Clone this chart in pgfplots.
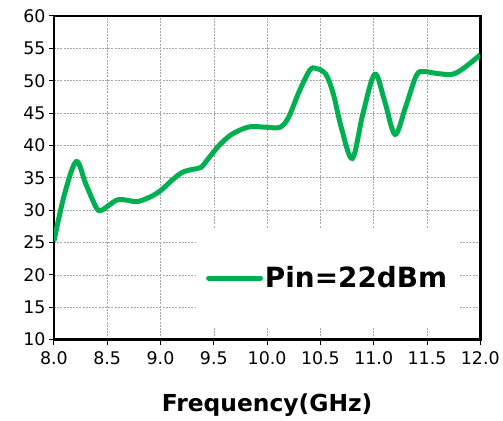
\documentclass[border=0pt]{standalone}
\usepackage{pgfplots}
\pgfplotsset{compat=1.18}
\usepackage{fontspec}
\setmainfont{DejaVu Sans}
\definecolor{exgreen}{RGB}{0,176,80}
\begin{document}
\begin{tikzpicture}
\begin{axis}[
  name=ax,
  scale only axis,
  width=427bp, height=324bp,
  xmin=8, xmax=12, ymin=10, ymax=60,
  xtick={8,8.5,...,12}, ytick={10,15,...,60},
  xticklabel style={yshift=-4bp, /pgf/number format/.cd,fixed,fixed zerofill,precision=1},
  /pgf/number format/assume math mode=true,
  tick label style={font=\fontsize{17.5}{20}\selectfont},
  tick pos=left, tick align=outside,
  major tick length=5bp,
  tick style={black, line width=1bp},
  axis line style={line width=2.6bp},
  grid=major,
  major grid style={gray!70, line width=0.6bp, dash pattern=on 2bp off 1.2bp},
  xlabel={\bfseries Frequency(GHz)},
  xlabel style={font=\fontsize{23.5}{28}\selectfont, yshift=-22bp},
  legend style={at={(0.333,0.037)}, anchor=south west, draw=none, fill=white,
    font=\bfseries\fontsize{28}{32}\selectfont, inner xsep=10bp, inner ysep=36bp},
  legend image code/.code={\draw[exgreen, line width=5bp, line cap=round] (0bp,0bp) -- (52bp,0bp);},
]
\addplot[exgreen, line width=5bp, smooth, tension=0.55] coordinates {
(8.00,25.2) (8.10,32.5) (8.21,37.5) (8.30,34.0) (8.40,30.3) (8.45,30.0)
(8.52,30.8) (8.60,31.6) (8.70,31.5) (8.78,31.3) (8.90,32.0) (9.00,33.0)
(9.10,34.5) (9.20,35.8) (9.30,36.3) (9.38,36.6) (9.45,38.0) (9.55,40.0)
(9.65,41.5) (9.75,42.4) (9.85,42.9) (10.00,42.8) (10.12,42.8) (10.20,44.3)
(10.30,48.3) (10.40,51.6) (10.46,51.9) (10.55,51.0) (10.62,48.0) (10.70,42.5)
(10.80,38.0) (10.90,45.0) (11.01,51.0) (11.10,47.0) (11.20,41.7) (11.30,46.0)
(11.40,50.8) (11.47,51.4) (11.60,51.1) (11.74,51.0) (11.85,52.0) (12.00,54.0)
};
\addlegendentry{Pin=22dBm}
\end{axis}
\path (ax.south west) ++(-54bp,-81bp) (ax.north east) ++(22bp,16bp);
\end{tikzpicture}
\end{document}
